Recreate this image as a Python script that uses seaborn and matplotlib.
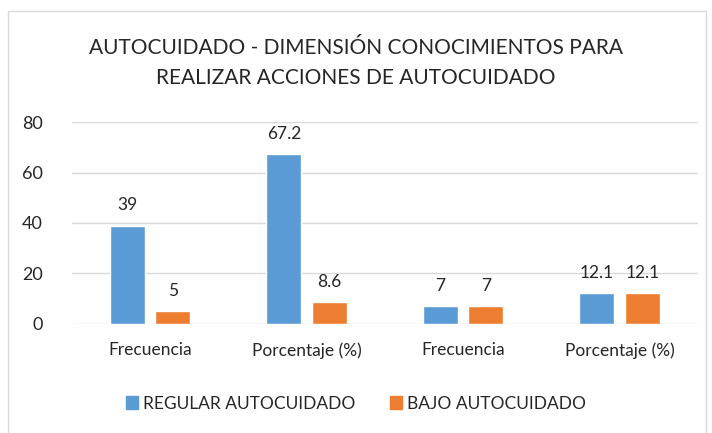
import matplotlib
matplotlib.use("Agg")
import matplotlib.pyplot as plt
import seaborn as sns
import pandas as pd
from matplotlib.patches import Rectangle

categories = ["Frecuencia", "Porcentaje (%)", "Frecuencia", "Porcentaje (%)"]
series_names = ["REGULAR AUTOCUIDADO", "BAJO AUTOCUIDADO"]
regular = [39, 67.2, 7, 12.1]
bajo = [5, 8.6, 7, 12.1]
value_labels_regular = ["39", "67.2", "7", "12.1"]
value_labels_bajo = ["5", "8.6", "7", "12.1"]
colors = ["#5B9BD5", "#ED7D31"]

sns.set_theme(style="white")
plt.rcParams['font.family'] = ['Lato', 'DejaVu Sans']

keys = [f"c{i}" for i in range(len(categories))]
df = pd.DataFrame({
    "key": keys * 2,
    "value": regular + bajo,
    "serie": [series_names[0]] * 4 + [series_names[1]] * 4,
})

fig = plt.figure(figsize=(7.12, 4.33), dpi=100)
ax = fig.add_axes([0.101, 0.252, 0.879, 0.466])
sns.barplot(data=df, x="key", y="value", hue="serie", order=keys,
            hue_order=series_names, palette=colors, width=0.58, gap=0.227,
            saturation=1, ax=ax, legend=False, errorbar=None)

ax.set_ylim(0, 80)
ax.set_xlim(-0.5, 3.5)
ax.set_yticks([0, 20, 40, 60, 80])
ax.yaxis.grid(True, color="#D9D9D9", linewidth=1)
ax.set_axisbelow(True)
for s in ax.spines.values():
    s.set_visible(False)
ax.set_xlabel("")
ax.set_ylabel("")
ax.set_xticks(range(len(categories)))
ax.set_xticklabels(categories, fontsize=12.5, color="#262626")
ax.tick_params(axis="y", labelsize=13, labelcolor="#262626", length=0, pad=21)
ax.tick_params(axis="x", length=0, pad=13)

labels_all = [value_labels_regular, value_labels_bajo]
for cont, labs in zip(ax.containers, labels_all):
    for bar, lab in zip(cont, labs):
        ax.annotate(lab, (bar.get_x() + bar.get_width() / 2, bar.get_height()),
                    xytext=(0, 9), textcoords="offset points",
                    ha="center", va="bottom", fontsize=12.5, color="#262626")

fig.text(0.5, 0.889, "AUTOCUIDADO - DIMENSIÓN CONOCIMIENTOS PARA",
         ha="center", va="center", fontsize=15, color="#262626")
fig.text(0.5, 0.820, "REALIZAR ACCIONES DE AUTOCUIDADO",
         ha="center", va="center", fontsize=15, color="#262626")

handles = [Rectangle((0, 0), 1, 1, color=c) for c in colors]
fig.legend(handles, series_names, loc="center", bbox_to_anchor=(0.5, 0.068),
           ncol=2, frameon=False, fontsize=12.5, handlelength=0.7,
           handleheight=0.7, handletextpad=0.3, columnspacing=2.0,
           labelcolor="#262626")

fig.patches.append(Rectangle((8 / 712, -0.01), 698 / 712, 1 - 11 / 433 + 0.01,
                             transform=fig.transFigure, fill=False,
                             edgecolor="#D9D9D9", linewidth=1))

fig.savefig("out.png", dpi=100)
